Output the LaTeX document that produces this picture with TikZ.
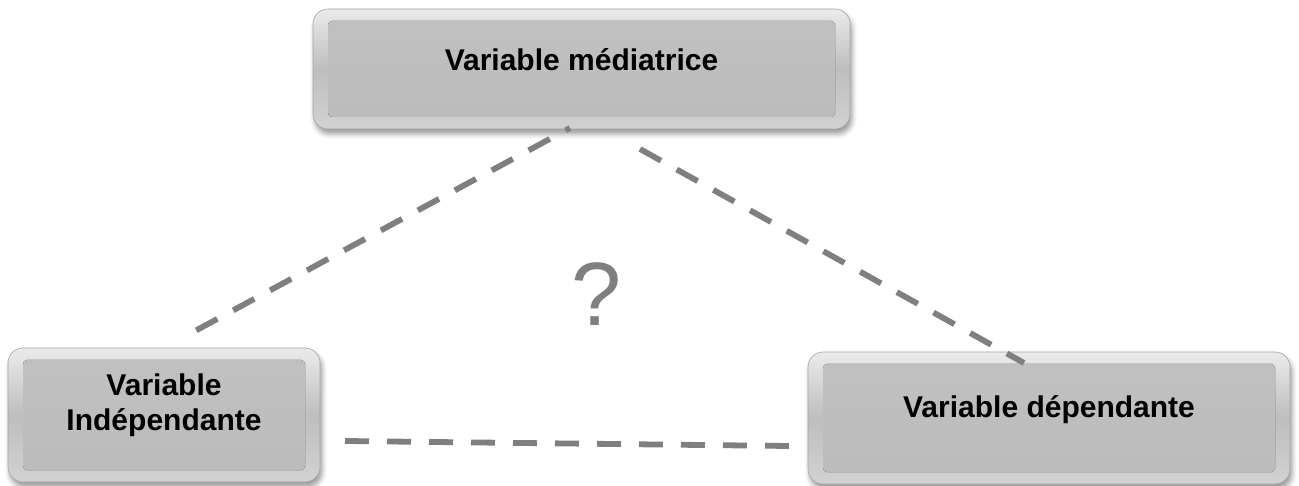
\documentclass[tikz,border=0pt]{standalone}
\usepackage{fontspec}
\setmainfont{Liberation Sans}
\usetikzlibrary{shadows.blur,calc}
\definecolor{boxlight}{HTML}{EBEBEB}
\definecolor{boxmid}{HTML}{BEBEBE}
\definecolor{boxlow}{HTML}{D2D2D2}
\definecolor{boxline}{HTML}{A4A4A4}
\definecolor{facetop}{HTML}{C1C1C1}
\definecolor{facebot}{HTML}{BBBBBB}
\definecolor{dashgray}{HTML}{7F7F7F}
\tikzset{
  vbox/.style={draw=boxline, line width=0.6pt, rounded corners=15pt, inner sep=0pt,
    top color=boxlight, bottom color=boxlow, middle color=boxmid,
    blur shadow={shadow xshift=2pt, shadow yshift=-5pt, shadow blur radius=5pt, shadow opacity=40},
    path picture={
      \fill[rounded corners=4pt, top color=facetop, bottom color=facebot]
        ($(path picture bounding box.north west)+(15,12)$) rectangle
        ($(path picture bounding box.south east)+(-15,-12)$);}},
  vtext/.style={font=\bfseries\fontsize{30}{35}\selectfont, align=center, text=black},
  dashline/.style={draw=dashgray, line width=5.8pt, dash pattern=on 24pt off 18pt},
}
\begin{document}
\begin{tikzpicture}[x=1pt,y=-1pt]
\useasboundingbox (0,0) rectangle (1299,486);
% boxes
\node[vbox, minimum width=537pt, minimum height=120pt] (boxM) at (581.5,69) {};
\node[vbox, minimum width=312pt, minimum height=134pt] (boxI) at (164,415) {};
\node[vbox, minimum width=482pt, minimum height=132pt] (boxD) at (1049,418) {};
% texts
\node[vtext] (tM) at ($(boxM.center)+(0,-9)$) {Variable médiatrice};
\node[vtext] (tI) at ($(boxI.center)+(0,-10)$) {Variable\\Indépendante};
\node[vtext] (tD) at ($(boxD.center)+(0,-8)$) {Variable dépendante};
% question mark
\node[font=\fontsize{90}{98}\selectfont, text=dashgray] (q) at (597,294) {?};
% connector ends
\coordinate (m1) at (570,128);
\coordinate (i1) at (195,331);
\coordinate (m2) at (640,149);
\coordinate (d1) at (1024,363);
\coordinate (i2) at (345,441);
\coordinate (d2) at (790,446);
\draw[dashline, dash phase=19pt] (m1) -- (i1);
\draw[dashline] (m2) -- (d1);
\draw[dashline] (i2) -- (d2);
\end{tikzpicture}
\end{document}
